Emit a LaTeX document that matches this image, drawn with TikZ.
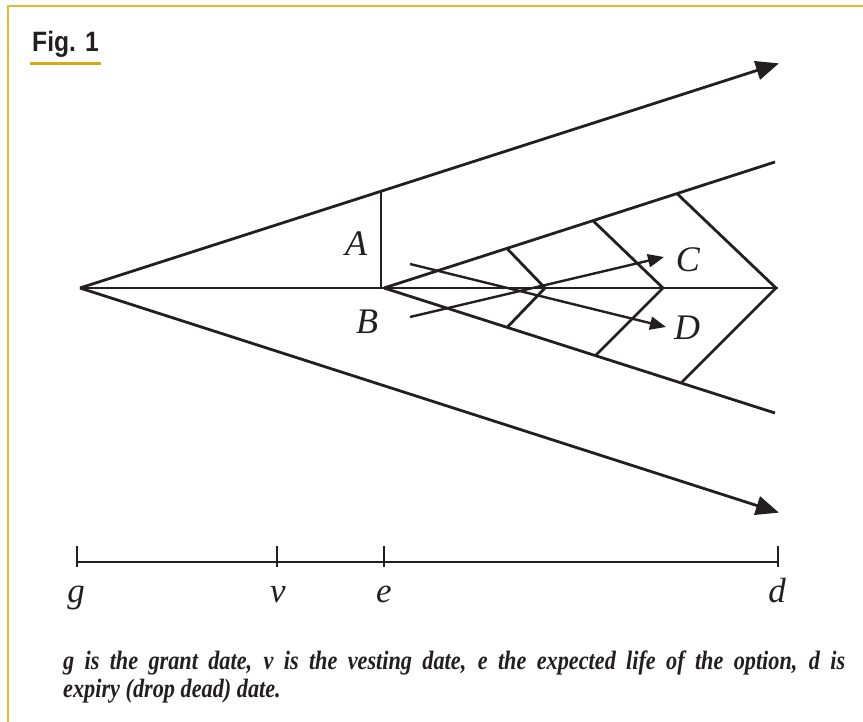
\documentclass[tikz,border=0pt]{standalone}
\usepackage{fontspec}
\setmainfont{Liberation Serif}
\newfontfamily\figfont[FakeStretch=0.88]{Liberation Sans}
\newfontfamily\capfont[FakeStretch=0.84]{Liberation Serif}
\usetikzlibrary{arrows.meta}
\definecolor{framegold}{RGB}{224,188,50}
\definecolor{linegold}{RGB}{214,170,20}
\definecolor{ink}{RGB}{35,31,32}
\tikzset{
  ln/.style={draw=ink, line width=2.8pt},
  bigarrow/.style={ln, -{Triangle[length=23pt,width=19pt]}, shorten >=-2pt},
  smallarrow/.style={ln, line width=2.4pt, -{Triangle[length=16pt,width=13pt]}},
  lbl/.style={font=\fontsize{36}{40}\selectfont\itshape, text=ink, inner sep=0pt},
  tlbl/.style={font=\fontsize{35}{40}\selectfont\itshape, text=ink, inner sep=0pt, anchor=base},
  capt/.style={font=\capfont\fontsize{26.5}{28}\selectfont\bfseries\itshape, text=ink, inner sep=0pt, anchor=base west}
}
\begin{document}
\begin{tikzpicture}[x=1pt,y=-1pt]
\useasboundingbox (0,0) rectangle (863,722);
% frame
\draw[framegold, line width=2pt] (8,722) -- (8,6) -- (863,6);
% title
\node[font=\figfont\fontsize{28}{32}\selectfont\bfseries, text=ink, inner sep=0pt, anchor=base west] (fig) at (32,52) {Fig. 1};
\draw[linegold, line width=3pt] (30,64) -- (101,64);
% main points
\coordinate (g0) at (80,288);
\coordinate (up) at (777,64);
\coordinate (lo) at (777,512);
\coordinate (mid) at (778,288);
\coordinate (aT) at (381,191.4);
\coordinate (aB) at (381,288);
\coordinate (b0) at (384,288);
\coordinate (iu) at (775,162);
\coordinate (il) at (775,413);
% grid
\coordinate (u1) at (507,248.5);
\coordinate (m1) at (545,288);
\coordinate (l1) at (507,327.5);
\coordinate (u2) at (593,220.7);
\coordinate (m2) at (663,288);
\coordinate (l2) at (596,355);
\coordinate (u3) at (677,193.6);
\coordinate (m3) at (776,288);
\coordinate (l3) at (682,382);
% C D arrows
\coordinate (cs) at (410,317);
\coordinate (ct) at (664,257);
\coordinate (ds) at (410,264);
\coordinate (dt) at (666,327);

\draw[bigarrow] (g0) -- (up);
\draw[bigarrow] (g0) -- (lo);
\draw[ln] (g0) -- (mid);
\draw[ln] (aB) -- (aT);
\draw[ln] (b0) -- (iu);
\draw[ln] (b0) -- (il);
\draw[ln] (u1) -- (m1) -- (l1);
\draw[ln] (u2) -- (m2) -- (l2);
\draw[ln] (u3) -- (m3) -- (l3);
\draw[smallarrow] (cs) -- (ct);
\draw[smallarrow] (ds) -- (dt);

\node[lbl] (A) at (356,244) {A};
\node[lbl] (B) at (367,322) {B};
\node[lbl] (C) at (688,260) {C};
\node[lbl] (D) at (687,328) {D};

% timeline
\coordinate (t0) at (77,562);
\coordinate (t1) at (277,562);
\coordinate (t2) at (384,562);
\coordinate (t3) at (778,562);
\draw[ln, line width=2.6pt] (t0) -- (t3);
\foreach \p in {t0,t1,t2,t3} {
  \draw[ln, line width=2.6pt] ([yshift=16pt]\p) -- ([yshift=-5pt]\p);
}
\node[tlbl] (lg) at (76,602) {g};
\node[tlbl] (lv) at (278,602) {v};
\node[tlbl] (le) at (384,602) {e};
\node[tlbl] (ld) at (777,602) {d};

% caption
\node[capt] (cap1) at (63,669) {\hbox to 782pt{g is the grant date, v is the vesting date, e the expected life of the option, d is}};
\node[capt] (cap2) at (63,697) {expiry (drop dead) date.};
\end{tikzpicture}
\end{document}
